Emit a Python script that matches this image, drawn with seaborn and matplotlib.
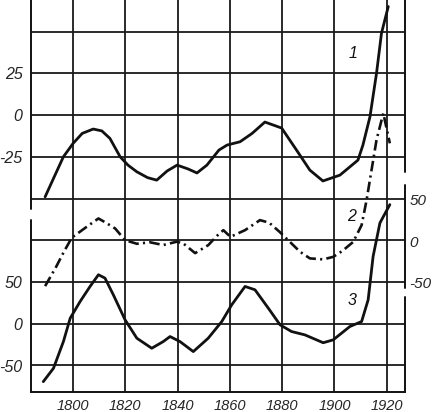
import matplotlib
matplotlib.use("Agg")
import matplotlib.pyplot as plt
import seaborn as sns

# ======================================================
# DATA
# ======================================================
# curve 1 - left upper scale
years_1 = [1789.3, 1792.5, 1796.3, 1800.0, 1803.5, 1807.7, 1811.0, 1814.1, 1818.0,
           1821.0, 1824.4, 1828.5, 1832.0, 1836.0, 1839.8, 1844.0, 1847.4, 1851.2,
           1855.8, 1858.9, 1863.9, 1868.5, 1873.4, 1879.8, 1885.5, 1890.6, 1895.6,
           1902.1, 1909.0, 1910.9, 1913.6, 1916.1, 1918.0, 1920.6]
values_1 = [-49, -38, -25, -17, -11, -8.4, -9.5, -14, -25,
            -30, -34, -37.5, -39, -33.5, -30, -32.3, -34.7, -30,
            -21, -18, -16, -11, -4.2, -7.8, -21, -33, -39.5,
            -36, -27, -18, -1, 25, 49, 65]

# curve 2 - right scale (dash-dot)
years_2 = [1789.3, 1793.5, 1796.3, 1799.5, 1805.2, 1809.7, 1812.5, 1816.1, 1819.9,
           1824.4, 1829.4, 1834.5, 1839.7, 1842.2, 1846.7, 1851.7, 1855.0, 1857.5,
           1860.2, 1865.8, 1871.5, 1875.0, 1879.0, 1883.6, 1886.8, 1890.6, 1895.7,
           1899.5, 1903.0, 1907.2, 1910.4, 1912.3, 1916.1, 1918.7, 1921.2]
values_2 = [-54, -31, -14, 4, 17, 27, 22, 15, 1,
            -3.3, -1.5, -4.8, -0.8, -3, -14.5, -5, 6, 13,
            5, 13, 25, 22, 11, -3, -12.8, -20.8, -22,
            -19, -12, -1, 19, 49, 121, 153, 117]

# curve 3 - left lower scale
years_3 = [1788.6, 1792.5, 1796.3, 1798.9, 1802.7, 1806.5, 1809.7, 1812.2, 1815.4,
           1819.9, 1824.4, 1830.1, 1834.5, 1837.1, 1840.9, 1846.0, 1851.7, 1856.9,
           1860.7, 1865.8, 1869.6, 1874.7, 1879.2, 1883.6, 1888.7, 1895.7, 1899.5,
           1905.9, 1910.4, 1912.9, 1914.8, 1917.4, 1921.2]
values_3 = [-69, -53, -21, 7, 27, 45, 59, 55, 35,
            5, -17, -29, -21, -15, -21, -33, -17, 3,
            23, 45, 41, 19, -1, -9, -13, -22.4, -19,
            -3, 3, 29, 81, 121, 143]

year_labels = [1800, 1820, 1840, 1860, 1880, 1900, 1920]
minor_years = [1790, 1810, 1830, 1850, 1870, 1890, 1910]
grid_levels_1 = [-150, -125, -100, -75, -50, -25, 0, 25, 50]
labels_1 = [-25, 0, 25]
labels_2 = [-50, 0, 50]
labels_3 = [-50, 0, 50]

# ======================================================
# STYLE
# ======================================================
sns.set_style("white")
plt.rcParams["font.family"] = ["Liberation Sans", "DejaVu Sans"]
plt.rcParams["font.style"] = "italic"
plt.rcParams["axes.unicode_minus"] = False

ink = "#111111"
fig = plt.figure(figsize=(4.32, 4.12), dpi=100)
fig.patch.set_facecolor("white")

ax = fig.add_axes([31 / 432, 20 / 412, 374 / 432, 394 / 412])
ax.set_xlim(1783.9, 1927.0)
ax.set_ylim(-165.9, 70.1)

ax3 = ax.twinx()
ax3.set_ylim(-81.4, 390.4)
ax2 = ax.twinx()
ax2.set_ylim(-180.8, 291.0)

# ======================================================
# GRID / AXES
# ======================================================
ax.set_xticks(year_labels)
ax.set_xticks(minor_years, minor=True)
ax.set_yticks(grid_levels_1)
ax.set_yticklabels([str(v) if v in labels_1 else "" for v in grid_levels_1])
ax.grid(True, color="#1a1a1a", linewidth=1.3)
ax.tick_params(axis="x", which="major", length=0, pad=5, labelsize=10.5)
ax.tick_params(axis="x", which="minor", direction="in", length=5, width=1.1, color=ink)
ax.tick_params(axis="y", length=0, pad=6, labelsize=11.5)

ax3.yaxis.tick_left()
ax3.set_yticks(labels_3)
ax3.tick_params(axis="y", length=0, pad=6, labelsize=11.5)
ax3.grid(False)

ax2.yaxis.tick_right()
ax2.set_yticks(labels_2)
ax2.tick_params(axis="y", length=0, pad=3, labelsize=11)
ax2.grid(False)

for a in (ax, ax2, ax3):
    for s in a.spines.values():
        s.set_visible(False)
ax.spines["bottom"].set_visible(True)
ax.spines["bottom"].set_color(ink)
ax.spines["bottom"].set_linewidth(1.4)

# broken side axes
for lo, hi in [(0.0, 0.4365), (0.4645, 1.0)]:
    ax.axvline(1783.9, ymin=lo, ymax=hi, color=ink, lw=1.4, clip_on=False)
for lo, hi in [(0.0, 0.241), (0.264, 0.525), (0.558, 1.0)]:
    ax.axvline(1927.0, ymin=lo, ymax=hi, color=ink, lw=1.4, clip_on=False)

# ======================================================
# CURVES
# ======================================================
sns.lineplot(x=years_1, y=values_1, ax=ax, sort=False, estimator=None,
             color=ink, linewidth=2.0)
sns.lineplot(x=years_3, y=values_3, ax=ax3, sort=False, estimator=None,
             color=ink, linewidth=2.0)
sns.lineplot(x=years_2, y=values_2, ax=ax2, sort=False, estimator=None,
             color=ink, linewidth=1.9, dashes=False)
ax2.lines[-1].set_dashes((4, 1.6, 0.8, 1.6))
for a in (ax, ax2, ax3):
    for ln in a.lines:
        ln.set_solid_joinstyle("round")
        ln.set_dash_joinstyle("round")

ax.text(1907.1, 37, "1", fontsize=11.5, ha="center", va="center", color=ink)
ax2.text(1906.6, 29, "2", fontsize=11.5, ha="center", va="center", color=ink)
ax3.text(1906.6, 28, "3", fontsize=11.5, ha="center", va="center", color=ink)

for a in (ax, ax2, ax3):
    a.set_xlabel("")
    a.set_ylabel("")

fig.savefig("out.png", dpi=100, facecolor="white")
